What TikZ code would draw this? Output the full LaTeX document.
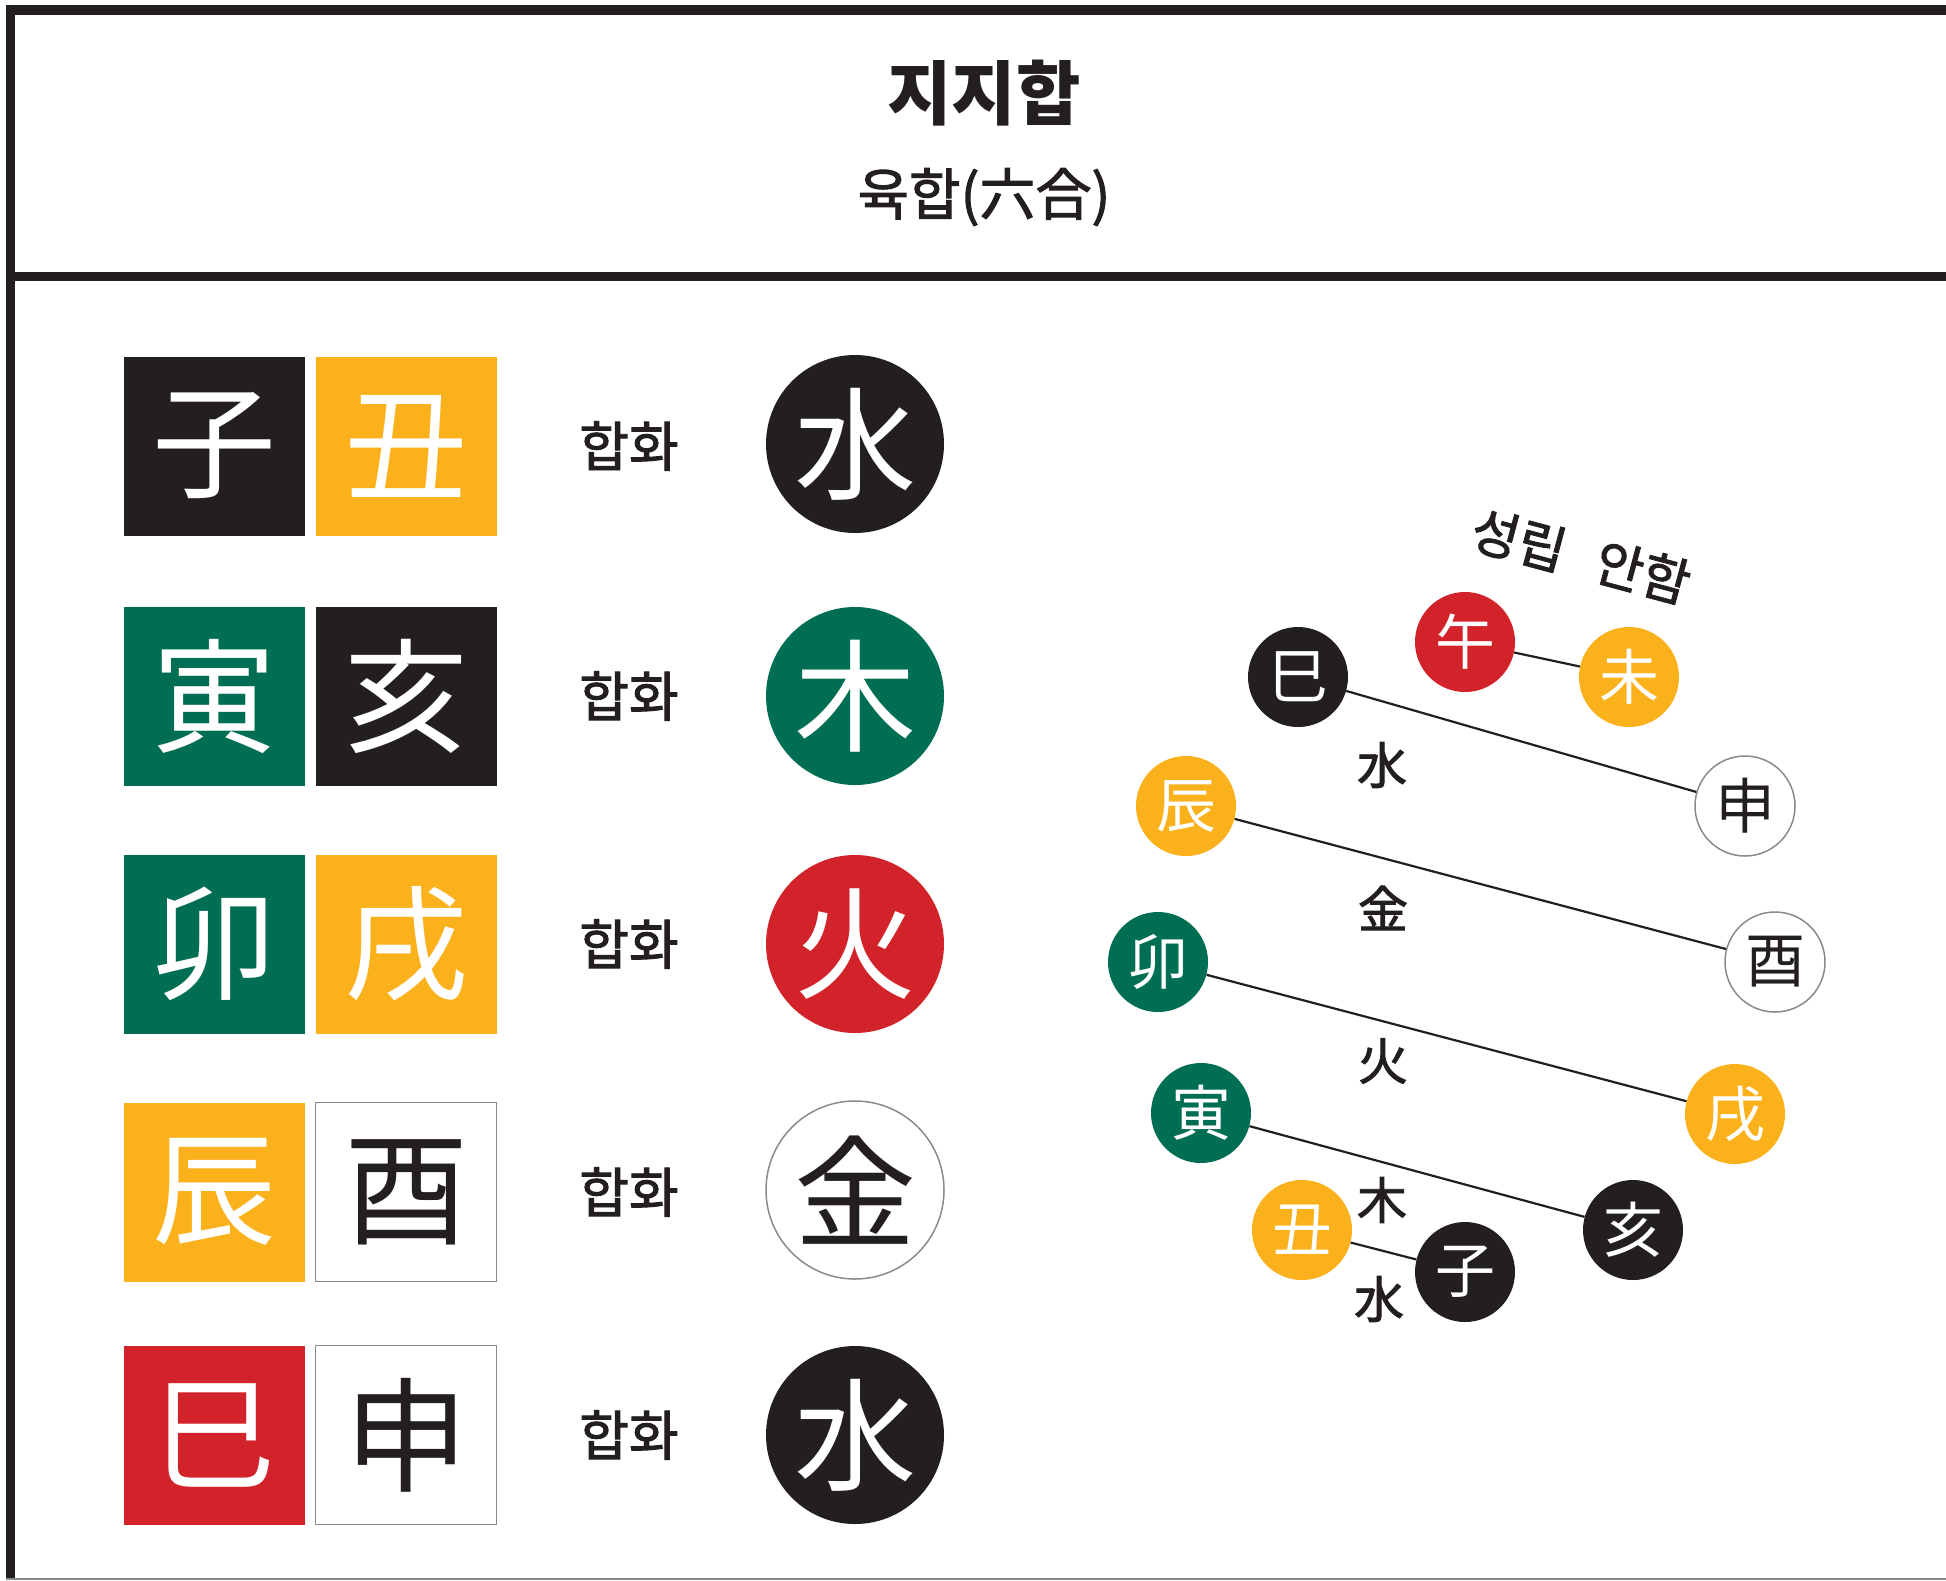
\documentclass[tikz,border=0pt]{standalone}
\usepackage{fontspec}
\setmainfont{Noto Sans CJK KR}
\newfontfamily\krfont{Noto Sans CJK KR}
\newfontfamily\krmed[FakeBold=1.8]{Noto Sans CJK KR}
\definecolor{kblack}{HTML}{231F20}
\definecolor{kyellow}{HTML}{FBB11C}
\definecolor{kgreen}{HTML}{006E52}
\definecolor{kred}{HTML}{D2232A}
\definecolor{kgray}{HTML}{8A8A8A}
\tikzset{
  hbox/.style={rectangle, minimum width=181, minimum height=179, inner sep=0,
    font=\krfont\fontsize{124}{124}\selectfont, text=white},
  hbk/.style={hbox, fill=kblack},
  hye/.style={hbox, fill=kyellow},
  hgr/.style={hbox, fill=kgreen},
  hre/.style={hbox, fill=kred},
  hwh/.style={hbox, fill=white, draw=kgray, line width=1.5, text=kblack},
  bigc/.style={circle, minimum size=178, inner sep=0,
    font=\krfont\fontsize{122}{122}\selectfont, text=white},
  sc/.style={circle, minimum size=100, inner sep=0,
    font=\krfont\fontsize{60}{60}\selectfont, text=white},
  hwlabel/.style={font=\krmed\fontsize{54}{54}\selectfont, text=kblack, inner sep=0},
  elabel/.style={font=\krmed\fontsize{50}{50}\selectfont, text=kblack, inner sep=0},
  notelabel/.style={font=\krmed\fontsize{52}{52}\selectfont, text=kblack, inner sep=0, rotate=-15},
  link/.style={draw=kblack, line width=2.2}
}
\begin{document}
\begin{tikzpicture}[x=1pt,y=-1pt]
\useasboundingbox (0,0) rectangle (1946,1580);
\fill[white] (0,0) rectangle (1946,1580);
% frame
\draw[kblack, line width=10] (6,10) -- (1946,10);
\draw[kblack, line width=9] (6,276) -- (1946,276);
\draw[kblack, line width=9] (10.5,5) -- (10.5,1580);
\draw[kgray, line width=2] (6,1579) -- (1946,1579);
% title
\node[font=\krfont\bfseries\fontsize{70}{70}\selectfont, text=kblack, inner sep=0] (title) at (984,93) {지지합};
\node[font=\krmed\fontsize{56}{56}\selectfont, text=kblack, inner sep=0] (subtitle) at (984,197) {육합(六合)};
% left rows
\node[hbk] (r1a) at (214,446) {子};
\node[hye] (r1b) at (406,446) {丑};
\node[hwlabel] (r1h) at (629,446) {합화};
\node[bigc, fill=kblack] (r1c) at (855,444) {水};

\node[hgr] (r2a) at (214,696) {寅};
\node[hbk] (r2b) at (406,696) {亥};
\node[hwlabel] (r2h) at (629,696) {합화};
\node[bigc, fill=kgreen] (r2c) at (855,696) {木};

\node[hgr] (r3a) at (214,944) {卯};
\node[hye] (r3b) at (406,944) {戌};
\node[hwlabel] (r3h) at (629,944) {합화};
\node[bigc, fill=kred] (r3c) at (855,944) {火};

\node[hye] (r4a) at (214,1192) {辰};
\node[hwh] (r4b) at (406,1192) {酉};
\node[hwlabel] (r4h) at (629,1192) {합화};
\node[bigc, fill=white, draw=kgray, line width=1.5, text=kblack] (r4c) at (855,1190) {金};

\node[hre] (r5a) at (214,1435) {巳};
\node[hwh] (r5b) at (406,1435) {申};
\node[hwlabel] (r5h) at (629,1435) {합화};
\node[bigc, fill=kblack] (r5c) at (855,1435) {水};

% right diagram
\node[notelabel] (note1) at (1519,540) {성립};
\node[notelabel] (note2) at (1643,572) {안함};

\node[sc, fill=kred] (wu) at (1465,642) {午};
\node[sc, fill=kyellow] (wei) at (1629,677) {未};
\node[sc, fill=kblack] (si) at (1298,677) {巳};
\node[sc, fill=white, draw=kgray, line width=1.5, text=kblack] (shen) at (1745,806) {申};
\node[sc, fill=kyellow] (chen) at (1186,806) {辰};
\node[sc, fill=white, draw=kgray, line width=1.5, text=kblack] (you) at (1775,962) {酉};
\node[sc, fill=kgreen] (mao) at (1158,962) {卯};
\node[sc, fill=kyellow] (xu) at (1735,1114) {戌};
\node[sc, fill=kgreen] (yin) at (1201,1113) {寅};
\node[sc, fill=kblack] (hai) at (1633,1230) {亥};
\node[sc, fill=kyellow] (chou) at (1302,1230) {丑};
\node[sc, fill=kblack] (zi) at (1465,1272) {子};

\draw[link] (wu) -- (wei);
\draw[link] (si) -- (shen);
\draw[link] (chen) -- (you);
\draw[link] (mao) -- (xu);
\draw[link] (yin) -- (hai);
\draw[link] (chou) -- (zi);

\node[elabel] (e1) at (1382,765) {水};
\node[elabel] (e2) at (1383,908) {金};
\node[elabel] (e3) at (1383,1061) {火};
\node[elabel] (e4) at (1382,1200) {木};
\node[elabel] (e5) at (1379,1299) {水};
\end{tikzpicture}
\end{document}
